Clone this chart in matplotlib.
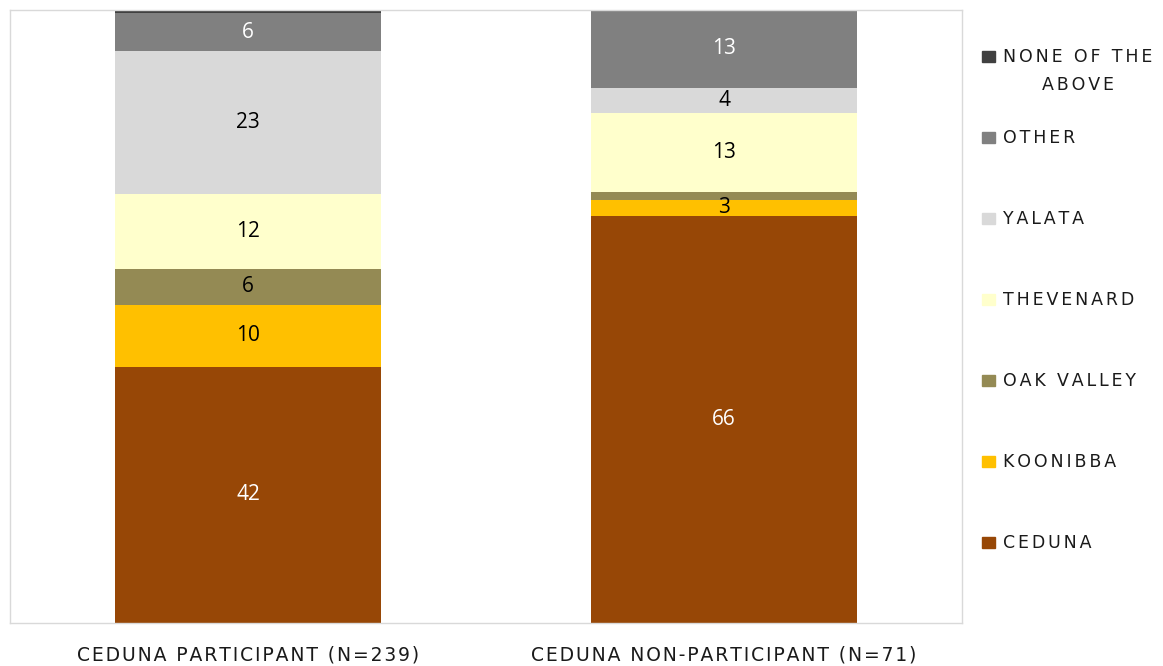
import matplotlib.pyplot as plt
from matplotlib.patches import Patch

groups = ['CEDUNA PARTICIPANT (N=239)', 'CEDUNA NON-PARTICIPANT (N=71)']
places = ['CEDUNA', 'KOONIBBA', 'OAK VALLEY', 'THEVENARD', 'YALATA', 'OTHER', 'NONE OF THE']
participant = [41.8, 10.1, 5.9, 12.1, 23.4, 6.2, 0.5]
non_participant = [66.4, 2.6, 1.3, 12.9, 4.1, 12.7, 0.0]

colors = ['#974706', '#FFC000', '#948A54', '#FFFFCC', '#D9D9D9', '#808080', '#404040']
label_colors = ['white', 'black', 'black', 'black', 'black', 'white', 'white']


def spaced(s, gap='\u2006'):
    # imitate the wide letter spacing of the original
    return gap.join(s)


fig = plt.figure(figsize=(11.63, 6.66), dpi=100)
ax = fig.add_axes([0.0086, 0.0646, 0.8186, 0.9204])

x = [0, 1]
bottom = [0.0, 0.0]
for i, name in enumerate(places):
    vals = [participant[i], non_participant[i]]
    bars = ax.bar(x, vals, width=0.557, bottom=bottom, color=colors[i], label=name)
    for j, b in enumerate(bars):
        v = vals[j]
        if v >= 2:
            ax.text(b.get_x() + b.get_width() / 2, bottom[j] + v / 2, f'{v:.0f}',
                    ha='center', va='center', fontsize=15, color=label_colors[i],
                    family='Open Sans')
    bottom = [bottom[k] + vals[k] for k in range(2)]

ax.set_xlim(-0.5, 1.5)
ax.set_ylim(0, 100)
ax.set_yticks([])
ax.set_xticks(x)
ax.set_xticklabels([spaced(g, '\u200a') for g in groups], fontsize=13.5, color='#1a1a1a')
ax.tick_params(axis='x', length=0, pad=16)
for s in ax.spines.values():
    s.set_color('#D9D9D9')
    s.set_linewidth(1)

handles = [Patch(color=colors[i], label=spaced(places[i])) for i in range(len(places))][::-1]
leg = fig.legend(handles=handles, loc='upper left', bbox_to_anchor=(0.831, 0.951),
                 frameon=False, fontsize=12.5, handlelength=0.75, handleheight=0.6,
                 handletextpad=0.45, labelspacing=3.63, labelcolor='#1a1a1a')

# second line of the first legend entry, centred under the first line
fig.canvas.draw()
bb = leg.get_texts()[0].get_window_extent().transformed(fig.transFigure.inverted())
fig.text((bb.x0 + bb.x1) / 2, bb.y0 - 28 / 666, spaced('ABOVE'), ha='center', va='bottom',
         fontsize=12.5, color='#1a1a1a')

fig.savefig('out.png', dpi=100)
